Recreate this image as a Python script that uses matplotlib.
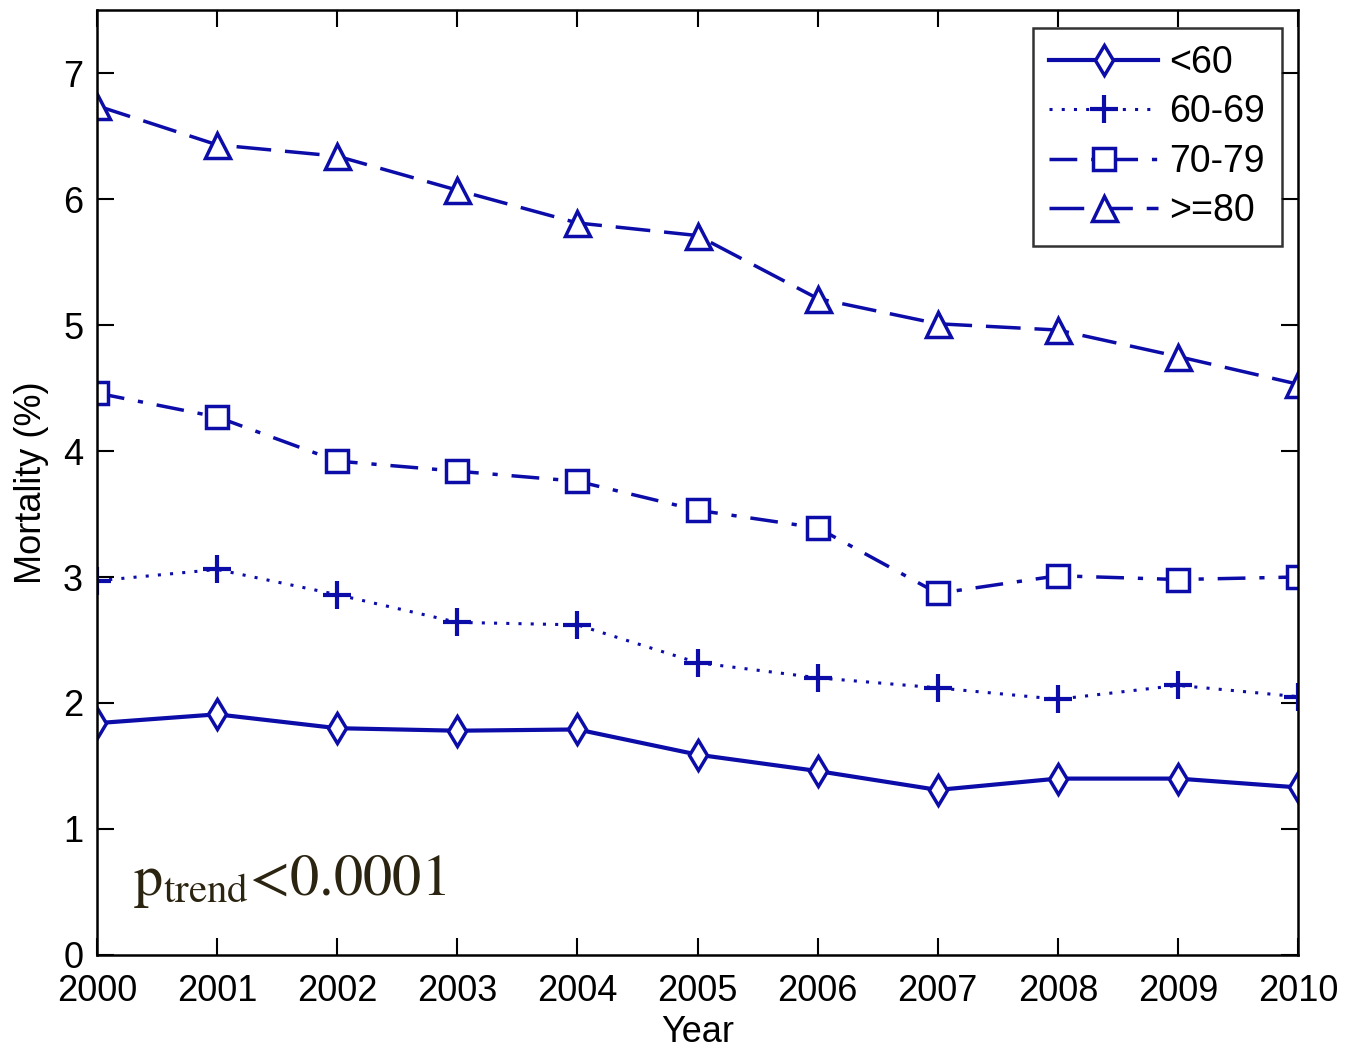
import matplotlib
matplotlib.use("Agg")
import matplotlib.pyplot as plt

plt.rcParams['font.family'] = ['Liberation Sans', 'DejaVu Sans']
plt.rcParams['mathtext.fontset'] = 'stix'

years = list(range(2000, 2011))
under60 = [1.84, 1.91, 1.80, 1.78, 1.79, 1.59, 1.46, 1.31, 1.40, 1.40, 1.33]
age60_69 = [2.97, 3.06, 2.86, 2.64, 2.62, 2.32, 2.20, 2.12, 2.03, 2.14, 2.05]
age70_79 = [4.46, 4.27, 3.92, 3.84, 3.76, 3.53, 3.39, 2.87, 3.01, 2.98, 3.00]
age80 = [6.74, 6.43, 6.34, 6.07, 5.81, 5.71, 5.21, 5.01, 4.96, 4.75, 4.53]
labels = ['<60', '60-69', '70-79', '>=80']

BLUE = "#0c0ca8"

fig = plt.figure(figsize=(13.55, 10.55), dpi=100)
ax = fig.add_axes([0.0716, 0.0948, 0.8864, 0.8957])

ax.plot(years, under60, color=BLUE, lw=3, ls='-', marker='d', ms=15,
        mfc='white', mec=BLUE, mew=2.5, label=labels[0])
ax.plot(years, age60_69, color=BLUE, lw=2.2, ls=(0, (1, 3)), marker='+', ms=20,
        mew=3, label=labels[1])
ax.plot(years, age70_79, color=BLUE, lw=2.5, ls=(0, (8, 4, 1.5, 4)), marker='s', ms=16,
        mfc='white', mec=BLUE, mew=2.5, label=labels[2])
ax.plot(years, age80, color=BLUE, lw=2.5, ls=(0, (10, 4)), marker='^', ms=18,
        mfc='white', mec=BLUE, mew=2.5, label=labels[3])

ax.set_xlim(2000, 2010)
ax.set_ylim(0, 7.5)
ax.set_xticks(years)
ax.set_yticks(range(0, 8))
ax.tick_params(direction='in', length=12, width=1.5, labelsize=26,
               top=True, right=True)
ax.tick_params(axis='x', pad=14)
ax.tick_params(axis='y', pad=10)
for sp in ax.spines.values():
    sp.set_linewidth(1.8)

ax.set_xlabel('Year', fontsize=26, labelpad=4)
ax.set_ylabel('Mortality (%)', fontsize=26, labelpad=10)

leg = ax.legend(loc='upper right', fontsize=27, frameon=True, fancybox=False,
                edgecolor='black', handlelength=2.9, borderpad=0.45,
                labelspacing=0.36, handletextpad=0.3, borderaxespad=0,
                bbox_to_anchor=(0.9867, 0.981))
leg.get_frame().set_linewidth(1.8)

ax.text(0.03, 0.064, r'$\mathrm{p_{trend}}$<0.0001', transform=ax.transAxes,
        fontsize=42, family='STIXGeneral', color='#2a2410')

fig.savefig('out.png', dpi=100)
